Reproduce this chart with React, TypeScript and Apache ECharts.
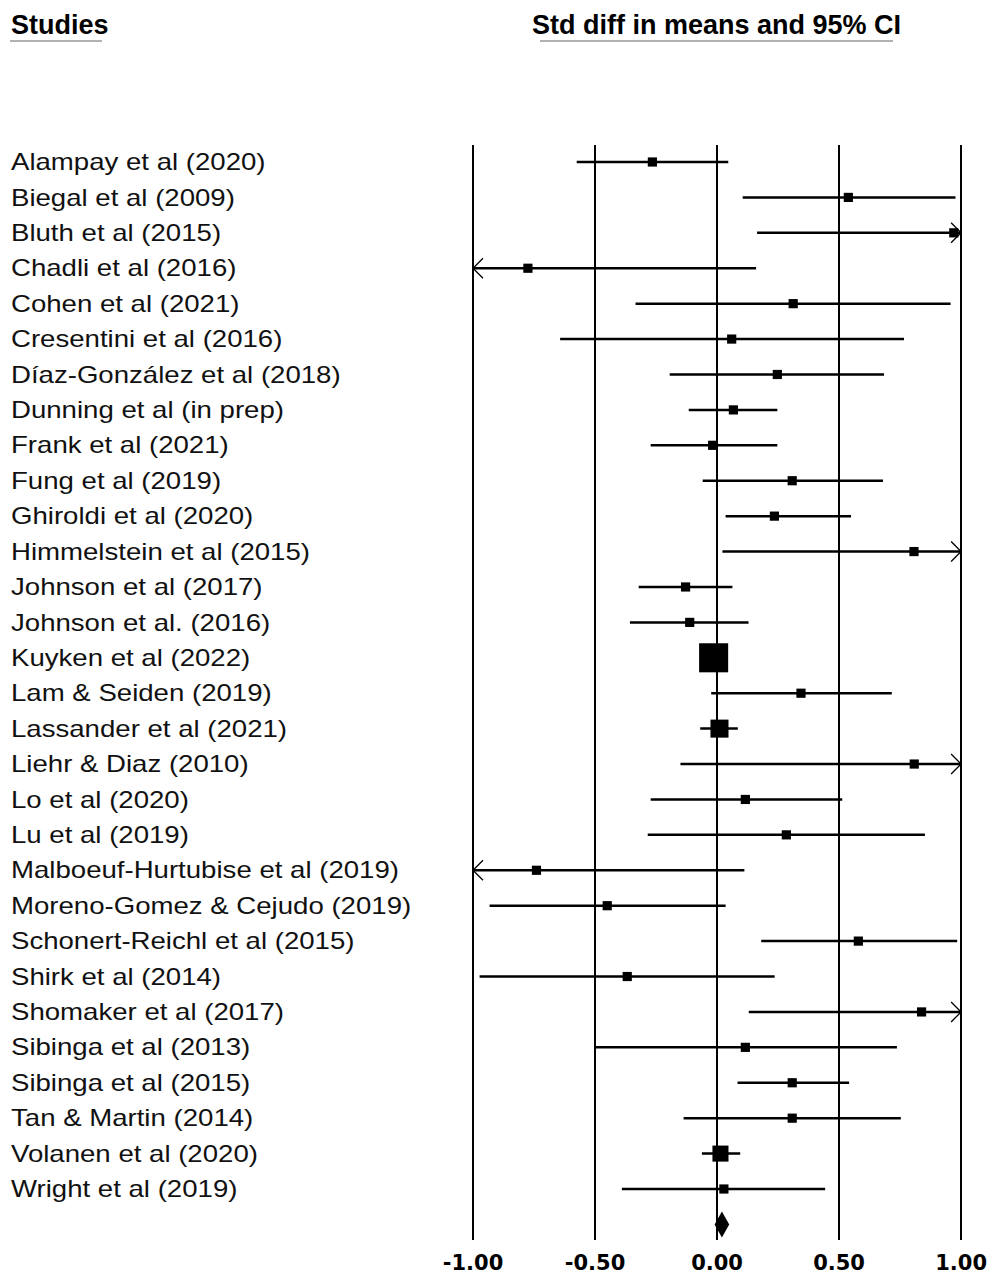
import React, { useEffect, useRef } from "react";
import * as echarts from "echarts";

const studies = [
  "Alampay et al (2020)",
  "Biegal et al (2009)",
  "Bluth et al (2015)",
  "Chadli et al (2016)",
  "Cohen et al (2021)",
  "Cresentini et al (2016)",
  "Díaz-González et al (2018)",
  "Dunning et al (in prep)",
  "Frank et al (2021)",
  "Fung et al (2019)",
  "Ghiroldi et al (2020)",
  "Himmelstein et al (2015)",
  "Johnson et al (2017)",
  "Johnson et al. (2016)",
  "Kuyken et al (2022)",
  "Lam & Seiden (2019)",
  "Lassander et al (2021)",
  "Liehr & Diaz (2010)",
  "Lo et al (2020)",
  "Lu et al (2019)",
  "Malboeuf-Hurtubise et al (2019)",
  "Moreno-Gomez & Cejudo (2019)",
  "Schonert-Reichl et al (2015)",
  "Shirk et al (2014)",
  "Shomaker et al (2017)",
  "Sibinga et al (2013)",
  "Sibinga et al (2015)",
  "Tan & Martin (2014)",
  "Volanen et al (2020)",
  "Wright et al (2019)",
];

const estimates = [
  -0.265, 0.538, 0.97, -0.775, 0.312, 0.06, 0.247, 0.067, -0.018, 0.308,
  0.235, 0.807, -0.129, -0.112, -0.014, 0.344, 0.01, 0.808, 0.116, 0.284,
  -0.74, -0.45, 0.579, -0.368, 0.838, 0.116, 0.308, 0.308, 0.014, 0.028,
];

const lowerCI = [
  -0.575, 0.105, 0.164, -1.71, -0.334, -0.643, -0.194, -0.116, -0.272, -0.059,
  0.035, 0.022, -0.321, -0.357, -0.06, -0.024, -0.069, -0.15, -0.272, -0.284,
  -1.59, -0.932, 0.181, -0.973, 0.13, -0.496, 0.084, -0.137, -0.062, -0.39,
];

const upperCI = [
  0.046, 0.977, 1.78, 0.16, 0.957, 0.766, 0.684, 0.247, 0.247, 0.68,
  0.549, 1.59, 0.063, 0.129, 0.03, 0.716, 0.085, 1.77, 0.513, 0.852,
  0.112, 0.035, 0.984, 0.236, 1.55, 0.737, 0.541, 0.753, 0.095, 0.443,
];

const weights = [
  2, 2, 2, 2, 2, 2, 2, 2, 2, 2,
  2, 2, 2, 2, 20, 2, 7.7, 2, 2, 2,
  2, 2, 2, 2, 2, 2, 2, 2, 6.1, 2,
];

const summaryEstimate = [0.02];
const summaryLower = [-0.01];
const summaryUpper = [0.05];

const xTicks = [-1, -0.5, 0, 0.5, 1];

const X_MIN = xTicks[0];
const X_MAX = xTicks[xTicks.length - 1];
const LABEL_FONT = '"Liberation Sans", Arial, sans-serif';

export default function App() {
  const ref = useRef<HTMLDivElement>(null);

  useEffect(() => {
    if (!ref.current) return;
    const chart = echarts.init(ref.current, undefined, { renderer: "svg" });

    const rows = studies.map((_, i) => [estimates[i], lowerCI[i], upperCI[i], i, weights[i]]);
    const labelRows = studies.map((_, i) => [X_MIN, i]);
    const summaryRow = studies.length;
    const summaryData = summaryEstimate.map((e, i) => [e, summaryLower[i], summaryUpper[i], summaryRow]);

    const option: any = {
      animation: false,
      backgroundColor: "#fff",
      grid: { left: 473, right: 28, top: 145, bottom: 39, containLabel: false },
      xAxis: {
        type: "value",
        min: X_MIN,
        max: X_MAX,
        interval: 0.5,
        axisLine: { show: false },
        axisTick: { show: false },
        splitLine: { show: true, lineStyle: { color: "#000", width: 2 } },
        axisLabel: {
          formatter: (v: number) => v.toFixed(2),
          fontFamily: '"DejaVu Sans", sans-serif',
          fontWeight: "bold",
          fontSize: 21,
          color: "#000",
          margin: 12,
        },
      },
      yAxis: {
        type: "value",
        inverse: true,
        min: -0.48,
        max: 30.44,
        show: false,
      },
      graphic: [
        {
          type: "text",
          x: 11,
          y: 25,
          style: {
            text: "Studies",
            fill: "#000",
            fontFamily: LABEL_FONT,
            fontWeight: "bold",
            fontSize: 27,
            verticalAlign: "middle",
            align: "left",
          },
        },
        {
          type: "text",
          x: 532,
          y: 25,
          style: {
            text: "Std diff in means and 95% CI",
            fill: "#000",
            fontFamily: LABEL_FONT,
            fontWeight: "bold",
            fontSize: 27,
            verticalAlign: "middle",
            align: "left",
          },
        },
        {
          type: "line",
          shape: { x1: 10, y1: 41, x2: 102, y2: 41 },
          style: { stroke: "#999", lineWidth: 1.5 },
        },
        {
          type: "line",
          shape: { x1: 540, y1: 41, x2: 893, y2: 41 },
          style: { stroke: "#999", lineWidth: 1.5 },
        },
      ],
      series: [
        {
          type: "custom",
          name: "labels",
          clip: false,
          data: labelRows,
          renderItem: (params: any, api: any) => {
            const p = api.coord([api.value(0), api.value(1)]);
            return {
              type: "text",
              x: 11,
              y: p[1],
              scaleX: 1.2,
              style: {
                text: studies[params.dataIndex],
                fill: "#111",
                fontFamily: LABEL_FONT,
                fontSize: 23,
                align: "left",
                verticalAlign: "middle",
              },
            };
          },
        },
        {
          type: "custom",
          name: "studies",
          clip: false,
          data: rows,
          renderItem: (params: any, api: any) => {
            const est = api.value(0);
            const lo = api.value(1);
            const hi = api.value(2);
            const row = api.value(3);
            const w = api.value(4);
            const p0 = api.coord([Math.max(lo, X_MIN), row]);
            const p1 = api.coord([Math.min(hi, X_MAX), row]);
            const pe = api.coord([est, row]);
            const side = 6.5 * Math.sqrt(w);
            const children: any[] = [
              {
                type: "line",
                shape: { x1: p0[0], y1: p0[1], x2: p1[0], y2: p1[1] },
                style: { stroke: "#000", lineWidth: 2.5 },
              },
              {
                type: "rect",
                shape: { x: pe[0] - side / 2, y: pe[1] - side / 2, width: side, height: side },
                style: { fill: "#000" },
              },
            ];
            if (hi > X_MAX) {
              children.push({
                type: "polyline",
                shape: { points: [[p1[0] - 10, p1[1] - 10], [p1[0], p1[1]], [p1[0] - 10, p1[1] + 10]] },
                style: { stroke: "#000", fill: null, lineWidth: 1.3 },
              });
            }
            if (lo < X_MIN) {
              children.push({
                type: "polyline",
                shape: { points: [[p0[0] + 10, p0[1] - 10], [p0[0], p0[1]], [p0[0] + 10, p0[1] + 10]] },
                style: { stroke: "#000", fill: null, lineWidth: 1.3 },
              });
            }
            return { type: "group", children };
          },
        },
        {
          type: "custom",
          name: "summary",
          clip: false,
          data: summaryData,
          renderItem: (params: any, api: any) => {
            const est = api.value(0);
            const lo = api.value(1);
            const hi = api.value(2);
            const row = api.value(3);
            const pl = api.coord([lo, row]);
            const pr = api.coord([hi, row]);
            const pe = api.coord([est, row]);
            const h = 13;
            return {
              type: "polygon",
              shape: {
                points: [
                  [pl[0], pl[1]],
                  [pe[0], pe[1] - h],
                  [pr[0], pr[1]],
                  [pe[0], pe[1] + h],
                ],
              },
              style: { fill: "#000" },
            };
          },
        },
      ],
    };

    chart.setOption(option);
    return () => chart.dispose();
  }, []);

  return (
    <div
      ref={ref}
      style={{ position: "fixed", left: 0, top: 0, width: 990, height: 1279, background: "#fff" }}
    />
  );
}
